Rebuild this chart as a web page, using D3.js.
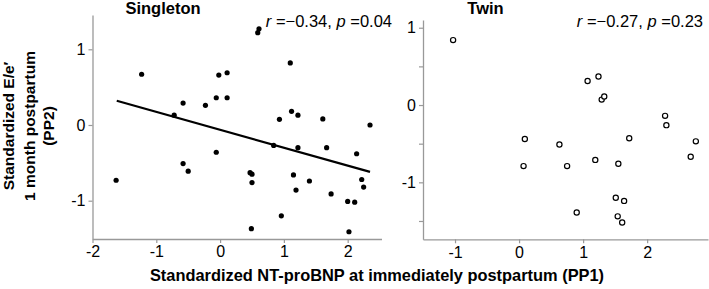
<!DOCTYPE html>
<html>
<head>
<meta charset="utf-8">
<script src="https://cdn.jsdelivr.net/npm/d3@7"></script>
<style>
  body { margin: 0; background: #fff; }
  svg { display: block; font-family: Arial, "Liberation Sans", sans-serif; }
</style>
</head>
<body>
<svg width="709" height="289"></svg>
<script>
// Singleton points (standardized NT-proBNP PP1, standardized E/e' PP2)
const singleX = [-1.63, -1.23, -0.72, -0.58, -0.58, -0.50, -0.23, -0.06, -0.02, -0.06,
  0.11, 0.11, 0.47, 0.50, 0.50, 0.49, 0.59, 0.61, 0.84, 0.93,
  0.96, 1.10, 1.12, 1.15, 1.19, 1.22, 1.22, 1.40, 1.61, 1.67,
  1.74, 2.00, 2.11, 2.02, 2.14, 2.22, 2.25, 2.35];
const singleY = [-0.73, 0.67, 0.13, 0.29, -0.51, -0.61, 0.26, 0.36, 0.66, -0.36,
  0.69, 0.36, -0.63, -0.65, -0.76, -1.37, 1.22, 1.27, -0.27, 0.075,
  -1.20, 0.82, 0.18, -0.66, -0.86, 0.13, -0.30, -0.74, 0.08, -0.30,
  -0.91, -1.01, -1.02, -1.41, -0.38, -0.72, -0.82, 0.0];
// fitted line end points for singleton
const fitX = [-1.62, 2.35];
const fitY = [0.32, -0.62];

// Twin points
const twinX = [-1.03, 1.07, 1.24, 1.29, 1.33, 2.28, 2.30, 0.09, 0.63, 0.07,
  1.72, 2.76, 2.68, 0.75, 1.19, 1.55, 1.51, 1.64, 0.90, 1.54, 1.61];
const twinY = [0.84, 0.31, 0.37, 0.07, 0.11, -0.14, -0.26, -0.44, -0.51, -0.79,
  -0.43, -0.47, -0.67, -0.79, -0.71, -0.76, -1.20, -1.24, -1.39, -1.44, -1.52];

const xTicksSingle = [-2, -1, 0, 1, 2];
const yTicksSingle = [-1, 0, 1];
const xTicksTwin = [-1, 0, 1, 2];
const yTicksTwin = [-1.5, -1, -0.5, 0, 0.5, 1];

const svg = d3.select("svg");
const axisColor = "#999";

// scales
const xS = d3.scaleLinear().domain([-2, 2.53]).range([92.5, 381.5]);
const yS = d3.scaleLinear().domain([-1.506, 1.453]).range([239, 15]);
const xT = d3.scaleLinear().domain([-1.5, 2.95]).range([423, 708]);
const yT = d3.scaleLinear().domain([-1.737, 1.1]).range([239.3, 20]);

function styleAxis(g) {
  g.select(".domain").attr("stroke", axisColor).attr("stroke-width", 1.3);
  g.selectAll(".tick line").attr("stroke", axisColor).attr("stroke-width", 1.2);
  g.selectAll(".tick text").attr("fill", "#000").attr("font-size", 16)
    .attr("font-family", "Arial, 'Liberation Sans', sans-serif");
}

const fmt = d => Number.isInteger(d) ? String(d).replace("\u2212", "-") : "";

// singleton axes
svg.append("g").attr("transform", "translate(0,239)")
  .call(d3.axisBottom(xS).tickValues(xTicksSingle).tickSize(4).tickSizeOuter(0).tickFormat(fmt))
  .call(styleAxis);
svg.append("g").attr("transform", "translate(92.5,0)")
  .call(d3.axisLeft(yS).tickValues(yTicksSingle).tickSize(4).tickSizeOuter(0).tickFormat(fmt))
  .call(styleAxis);

// twin axes
svg.append("g").attr("transform", "translate(0,239.3)")
  .call(d3.axisBottom(xT).tickValues(xTicksTwin).tickSize(4).tickSizeOuter(0).tickFormat(fmt))
  .call(styleAxis);
svg.append("g").attr("transform", "translate(423,0)")
  .call(d3.axisLeft(yT).tickValues(yTicksTwin).tickSize(4).tickSizeOuter(0).tickFormat(fmt))
  .call(styleAxis);

// fitted line
svg.append("line")
  .attr("x1", xS(fitX[0])).attr("y1", yS(fitY[0]))
  .attr("x2", xS(fitX[1])).attr("y2", yS(fitY[1]))
  .attr("stroke", "#000").attr("stroke-width", 2.2);

// singleton dots
svg.append("g").selectAll("circle")
  .data(singleX.map((x, i) => [x, singleY[i]]))
  .enter().append("circle")
  .attr("cx", d => xS(d[0]))
  .attr("cy", d => yS(d[1]))
  .attr("r", 2.6)
  .attr("fill", "#000");

// twin circles (open)
svg.append("g").selectAll("circle")
  .data(twinX.map((x, i) => [x, twinY[i]]))
  .enter().append("circle")
  .attr("cx", d => xT(d[0]))
  .attr("cy", d => yT(d[1]))
  .attr("r", 2.6)
  .attr("fill", "#fff")
  .attr("stroke", "#000")
  .attr("stroke-width", 1.2);

// panel titles
svg.append("text").attr("x", 163).attr("y", 13.5).attr("text-anchor", "middle")
  .attr("font-size", 16.5).attr("font-weight", "bold").text("Singleton");
svg.append("text").attr("x", 485.5).attr("y", 13.5).attr("text-anchor", "middle")
  .attr("font-size", 16.5).attr("font-weight", "bold").text("Twin");

// correlation labels
function stat(x, r, p) {
  const t = svg.append("text").attr("x", x).attr("y", 27).attr("text-anchor", "end")
    .attr("font-size", 16.5);
  t.append("tspan").attr("font-style", "italic").text("r");
  t.append("tspan").text(" =\u2212" + r + ", ");
  t.append("tspan").attr("font-style", "italic").text("p");
  t.append("tspan").text(" =" + p);
}
stat(392, "0.34", "0.04");
stat(703, "0.27", "0.23");

// axis titles
const yTitle = svg.append("text").attr("transform", "translate(0,126) rotate(-90)")
  .attr("text-anchor", "middle").attr("font-size", 15.5).attr("font-weight", "bold");
yTitle.append("tspan").attr("x", 0).attr("y", 13.5).text("Standardized E/e\u2032");
yTitle.append("tspan").attr("x", 0).attr("y", 34.5).text("1 month postpartum");
yTitle.append("tspan").attr("x", 0).attr("y", 54).text("(PP2)");

svg.append("text").attr("x", 377).attr("y", 281).attr("text-anchor", "middle")
  .attr("font-size", 16.4).attr("font-weight", "bold")
  .text("Standardized NT-proBNP at immediately postpartum (PP1)");
</script>
</body>
</html>
